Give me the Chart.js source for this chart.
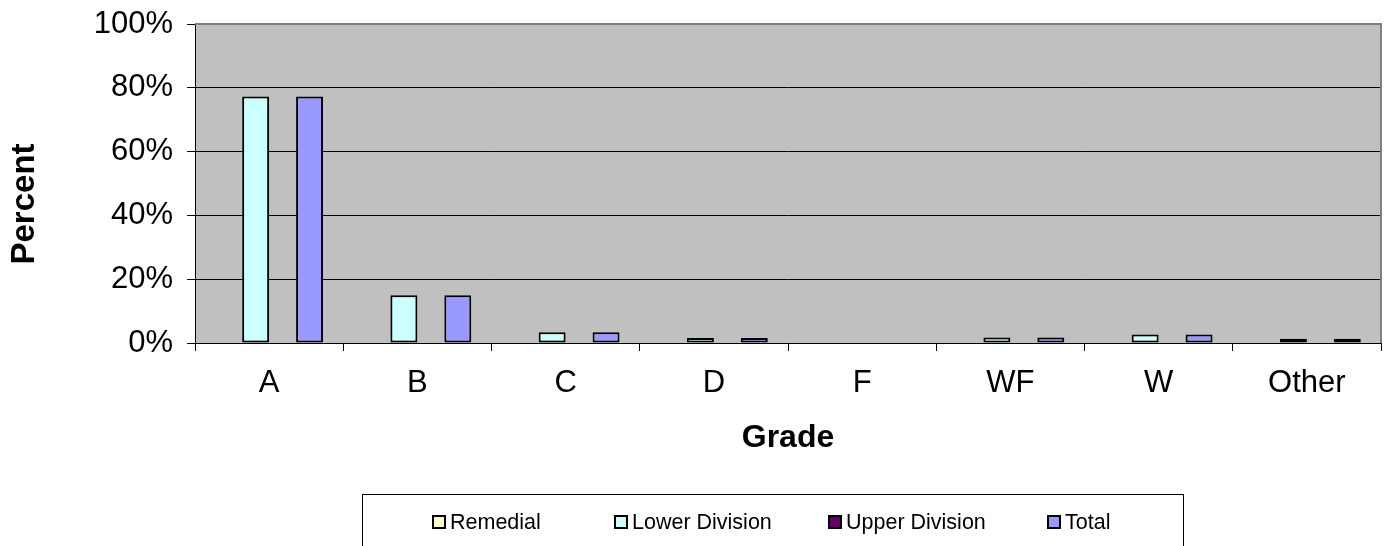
<!DOCTYPE html>
<html>
<head>
<meta charset="utf-8">
<script src="https://cdn.jsdelivr.net/npm/chart.js@4.4.1/dist/chart.umd.min.js"></script>
<style>
  html, body { margin: 0; padding: 0; background: #fff; }
  #wrap { width: 1385px; height: 546px; position: relative; }
</style>
</head>
<body>
<div id="wrap"><canvas id="c"></canvas></div>
<script>
const categories = ["A", "B", "C", "D", "F", "WF", "W", "Other"];
const remedial = [0, 0, 0, 0, 0, 0, 0, 0];
const lowerDivision = [77.3, 15.0, 3.4, 1.6, 0, 1.7, 2.7, 1.3];
const upperDivision = [0, 0, 0, 0, 0, 0, 0, 0];
const total = [77.3, 15.0, 3.4, 1.6, 0, 1.7, 2.7, 1.3];
const yTicks = [0, 20, 40, 60, 80, 100];
const yTitle = 'Percent';
const xTitle = 'Grade';

const FONT = "'Liberation Sans', Arial, sans-serif";

const plotBg = {
  id: 'plotBg',
  beforeDraw(chart) {
    const {ctx, chartArea: a} = chart;
    ctx.save();
    ctx.fillStyle = '#C0C0C0';
    ctx.fillRect(a.left, a.top, a.right - a.left, a.bottom - a.top);
    ctx.restore();
  },
  afterDatasetsDraw(chart) {
    const {ctx, chartArea: a} = chart;
    ctx.save();
    ctx.strokeStyle = '#808080';
    ctx.lineWidth = 2;
    ctx.beginPath();
    ctx.moveTo(a.left, a.top);
    ctx.lineTo(a.right, a.top);
    ctx.lineTo(a.right, a.bottom);
    ctx.stroke();
    ctx.restore();
  }
};

const yTitlePlugin = {
  id: 'yTitlePlugin',
  afterDraw(chart) {
    const ctx = chart.ctx;
    ctx.save();
    ctx.translate(25, 204);
    ctx.rotate(-Math.PI / 2);
    ctx.font = "bold 33px " + FONT;
    ctx.fillStyle = '#000';
    ctx.textAlign = 'center';
    ctx.textBaseline = 'middle';
    ctx.fillText(yTitle, 0, 0);
    ctx.restore();
  }
};

const boxLegend = {
  id: 'boxLegend',
  afterDraw(chart) {
    const ctx = chart.ctx;
    ctx.save();
    ctx.strokeStyle = '#000';
    ctx.lineWidth = 1;
    ctx.strokeRect(362.5, 494.5, 821, 80);
    ctx.font = "21.5px " + FONT;
    ctx.textBaseline = 'middle';
    const xs = [432, 614, 828, 1047];
    const yMid = 522;
    chart.data.datasets.forEach((ds, i) => {
      const x = xs[i];
      ctx.fillStyle = ds.backgroundColor;
      ctx.fillRect(x + 1, yMid - 6, 12, 12);
      ctx.lineWidth = 2;
      ctx.strokeStyle = '#000';
      ctx.strokeRect(x + 1, yMid - 6, 12, 12);
      ctx.fillStyle = '#000';
      ctx.fillText(ds.label, x + 18, yMid + 1);
    });
    ctx.restore();
  }
};

const mk = (label, data, color) => ({
  label, data,
  backgroundColor: color,
  borderColor: '#000',
  borderWidth: 2,
  borderSkipped: false,
  categoryPercentage: 4 / 5.5,
  barPercentage: 1.0
});

new Chart(document.getElementById('c'), {
  type: 'bar',
  data: {
    labels: categories,
    datasets: [
      mk('Remedial', remedial, '#FFFFCC'),
      mk('Lower Division', lowerDivision, '#CCFFFF'),
      mk('Upper Division', upperDivision, '#660066'),
      mk('Total', total, '#9999FF')
    ]
  },
  options: {
    responsive: true,
    maintainAspectRatio: false,
    animation: false,
    layout: { padding: { top: 24, right: 4, left: 0, bottom: 0 } },
    plugins: { legend: { display: false }, tooltip: { enabled: false } },
    scales: {
      x: {
        offset: true,
        grid: { offset: true, drawOnChartArea: false, drawTicks: true, tickLength: 8, color: '#000', lineWidth: 1 },
        border: { display: true, color: '#000', width: 1 },
        ticks: { color: '#000', font: { family: FONT, size: 31 }, padding: 14, maxRotation: 0 },
        title: { display: true, text: xTitle, color: '#000', font: { family: FONT, size: 32, weight: 'bold' }, padding: { top: 0, bottom: 89 } },
        afterFit(scale) { scale.height = 203; scale.paddingLeft = 0; scale.paddingRight = 0; }
      },
      y: {
        min: 0, max: 100,
        afterBuildTicks(scale) { scale.ticks = yTicks.map(v => ({ value: v })); },
        grid: { color: '#000', lineWidth: 1, drawTicks: true, tickLength: 8, tickColor: '#000' },
        border: { display: true, color: '#000', width: 1 },
        ticks: { color: '#000', font: { family: FONT, size: 31 }, padding: 14, callback: v => v + '%' },
        title: { display: false },
        afterFit(scale) { scale.width = 195; scale.paddingTop = 0; scale.paddingBottom = 0; }
      }
    }
  },
  plugins: [plotBg, yTitlePlugin, boxLegend]
});
</script>
</body>
</html>
